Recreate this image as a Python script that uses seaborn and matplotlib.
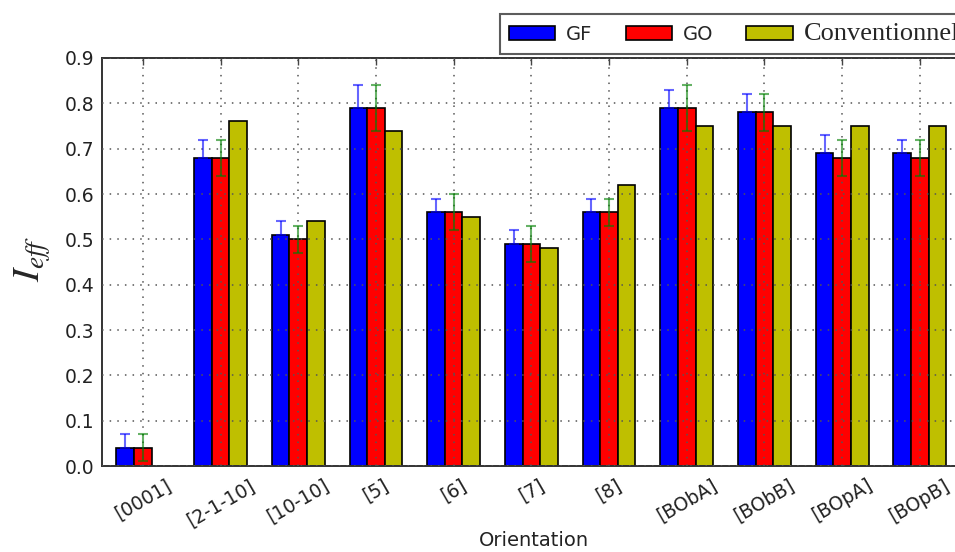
import numpy as np
import pandas as pd
import matplotlib
matplotlib.use("Agg")
import matplotlib.pyplot as plt
from matplotlib.patches import Patch
import seaborn as sns

categories = ["[0001]", "[2-1-10]", "[10-10]", "[5]", "[6]", "[7]", "[8]",
              "[BObA]", "[BObB]", "[BOpA]", "[BOpB]"]
series_names = ["GF", "GO", "Conventionnel"]
gf_values = [0.04, 0.68, 0.51, 0.79, 0.56, 0.49, 0.56, 0.79, 0.78, 0.69, 0.69]
gf_err_up = [0.03, 0.04, 0.03, 0.05, 0.03, 0.03, 0.03, 0.04, 0.04, 0.04, 0.03]
go_values = [0.04, 0.68, 0.50, 0.79, 0.56, 0.49, 0.56, 0.79, 0.78, 0.68, 0.68]
go_err = [0.03, 0.04, 0.03, 0.05, 0.04, 0.04, 0.03, 0.05, 0.04, 0.04, 0.04]
conv_values = [np.nan, 0.76, 0.54, 0.74, 0.55, 0.48, 0.62, 0.75, 0.75, 0.75, 0.75]
y_ticks = [0.0, 0.1, 0.2, 0.3, 0.4, 0.5, 0.6, 0.7, 0.8, 0.9]

colors = {"GF": "#0000ff", "GO": "#ff0000", "Conventionnel": "#bfbf00"}

rows = []
for name, vals in zip(series_names, [gf_values, go_values, conv_values]):
    for c, v in zip(categories, vals):
        if not np.isnan(v):
            rows.append({"Orientation": c, "series": name, "value": v})
df = pd.DataFrame(rows)

sns.set_style("white")
plt.rcParams["font.family"] = ["DejaVu Sans"]
plt.rcParams["mathtext.fontset"] = "stix"

W, H = 955, 552
fig = plt.figure(figsize=(W / 100, H / 100), dpi=100)
tick_px = 77.7
xlim = (-0.53, 10.6)
ax_left, ax_bottom, ax_top = 101.7, 466, 58
ax = fig.add_axes([ax_left / W, (H - ax_bottom) / H,
                   (xlim[1] - xlim[0]) * tick_px / W, (ax_bottom - ax_top) / H])

sns.barplot(data=df, x="Orientation", y="value", hue="series",
            order=categories, hue_order=series_names, palette=colors,
            width=0.68, saturation=1, errorbar=None, legend=False,
            edgecolor="black", linewidth=1.2, ax=ax)

# error bars
gf_bars = ax.containers[0]
go_bars = ax.containers[1]
gx = [p.get_x() + p.get_width() / 2 for p in gf_bars]
gy = [p.get_height() for p in gf_bars]
ax.errorbar(gx, gy, yerr=[np.zeros(len(gf_err_up)), gf_err_up], fmt="none",
            ecolor="b", alpha=0.6, elinewidth=1.5, capsize=3.5, capthick=1.5, zorder=5)
ox = [p.get_x() + p.get_width() / 2 for p in go_bars]
oy = [p.get_height() for p in go_bars]
ax.errorbar(ox, oy, yerr=go_err, fmt="none",
            ecolor="g", alpha=0.6, elinewidth=1.5, capsize=3.5, capthick=1.5, zorder=5)

ax.set_xlim(*xlim)
ax.set_ylim(0, 0.9)
ax.set_yticks(y_ticks)
ax.set_yticklabels([f"{t:.1f}" for t in y_ticks])
ax.set_xticks(range(len(categories)))
ax.set_xticklabels(categories, rotation=30, ha="center")
ax.tick_params(axis="both", direction="in", length=5, width=1, color="#444",
               labelsize=13.5, labelcolor="#222", top=True, right=True)
ax.tick_params(axis="x", pad=7)
ax.tick_params(axis="y", pad=5)

ax.grid(True, linestyle=(0, (1, 4)), color="#555", linewidth=1.1)
ax.set_axisbelow(False)
for s in ax.spines.values():
    s.set_color("#333")
    s.set_linewidth(1.4)

ax.set_xlabel("Orientation", fontsize=14, color="#222", labelpad=1)
ax.set_ylabel("$I_{eff}$", fontsize=28, rotation=90, va="center", ha="center")
ax.yaxis.set_label_coords((33 - ax_left) / ((xlim[1] - xlim[0]) * tick_px),
                          (ax_bottom - 259) / (ax_bottom - ax_top))

handles = [Patch(facecolor=colors[n], edgecolor="black", linewidth=1.2) for n in series_names]
leg = fig.legend(handles, series_names, loc="upper left",
                 bbox_to_anchor=(500 / W, 1 - 14 / H), ncol=3, frameon=True,
                 fancybox=False, edgecolor="#333", fontsize=14,
                 handlelength=2.4, handleheight=0.8, handletextpad=0.55,
                 columnspacing=1.7, borderaxespad=0, borderpad=0.45)
leg.get_frame().set_linewidth(1.5)
texts = leg.get_texts()
texts[2].set_fontfamily("Liberation Serif")
texts[2].set_fontsize(19)

fig.savefig("out.png", dpi=100)
